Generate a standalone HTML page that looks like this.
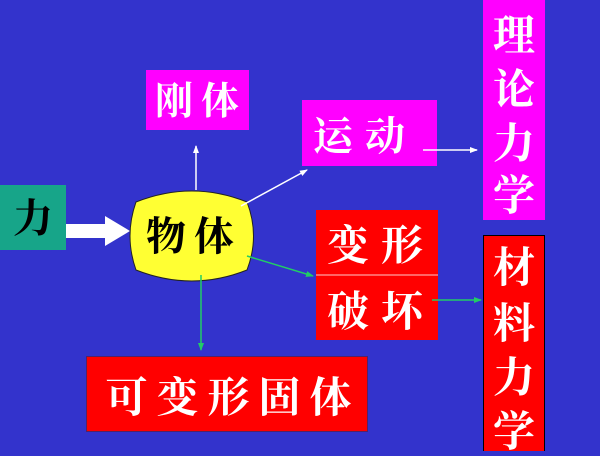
<!DOCTYPE html>
<html><head><meta charset="utf-8"><style>
html,body{margin:0;padding:0;}
body{width:600px;height:451px;background:#3333cc;overflow:hidden;}
svg text{font-family:"Liberation Serif","Noto Serif CJK SC",serif;font-weight:bold;}
</style></head><body>
<svg width="600" height="451" viewBox="0 0 600 451" xmlns="http://www.w3.org/2000/svg">
<defs>
<marker id="aw" markerWidth="8" markerHeight="6" refX="7" refY="3" orient="auto" markerUnits="userSpaceOnUse"><path d="M0,0 L8,3 L0,6 z" fill="#fff"/></marker>
<marker id="ag" markerWidth="8" markerHeight="6" refX="7" refY="3" orient="auto" markerUnits="userSpaceOnUse"><path d="M0,0 L8,3 L0,6 z" fill="#22cc66"/></marker>
</defs>
<rect width="600" height="451" fill="#3333cc"/>
<rect x="0" y="185" width="66" height="65" fill="#17a589"/>
<text x="33" y="232" font-size="40" fill="#000" text-anchor="middle">力</text>
<path d="M66,224 L105,224 L105,216 L130,231 L105,246 L105,238 L66,238 z" fill="#fff"/>
<path d="M136,202 Q192,180 247,202 Q260,236 247,270 Q192,292 136,270 Q124,236 136,202 z" fill="#ffff33" stroke="#222" stroke-width="1"/>
<text x="194" y="250" font-size="40" fill="#000" text-anchor="middle" letter-spacing="8">物体</text>
<rect x="146" y="70" width="103" height="60" fill="#ff00ff"/>
<text x="201" y="114" font-size="38" fill="#fff" text-anchor="middle" letter-spacing="8">刚体</text>
<rect x="302" y="100" width="135" height="66" fill="#ff00ff"/>
<text x="365" y="150" font-size="40" fill="#fff" text-anchor="middle" letter-spacing="12">运动</text>
<rect x="483" y="0" width="62" height="220" fill="#ff00ff"/>
<text x="514" y="50" font-size="42" fill="#fff" text-anchor="middle">理</text>
<text x="514" y="104" font-size="42" fill="#fff" text-anchor="middle">论</text>
<text x="514" y="158" font-size="42" fill="#fff" text-anchor="middle">力</text>
<text x="514" y="210" font-size="42" fill="#fff" text-anchor="middle">学</text>
<rect x="316" y="210" width="122" height="130" fill="#ff0000"/>
<line x1="316" y1="275" x2="438" y2="275" stroke="#ffcccc" stroke-width="1"/>
<text x="381" y="260" font-size="42" fill="#fff" text-anchor="middle" letter-spacing="12">变形</text>
<text x="381" y="326" font-size="42" fill="#fff" text-anchor="middle" letter-spacing="12">破坏</text>
<rect x="483.5" y="235.5" width="61" height="216" fill="#ff0000" stroke="#000" stroke-width="1"/>
<text x="514" y="282" font-size="42" fill="#fff" text-anchor="middle">材</text>
<text x="514" y="338" font-size="42" fill="#fff" text-anchor="middle">料</text>
<text x="514" y="392" font-size="42" fill="#fff" text-anchor="middle">力</text>
<text x="514" y="446" font-size="42" fill="#fff" text-anchor="middle">学</text>
<rect x="86.5" y="356.5" width="281" height="75" fill="#ff0000" stroke="#552266" stroke-width="1"/>
<text x="233" y="412" font-size="42" fill="#fff" text-anchor="middle" letter-spacing="9">可变形固体</text>
<line x1="196" y1="190" x2="196" y2="146" stroke="#fff" stroke-width="1.5" marker-end="url(#aw)"/>
<line x1="241" y1="206" x2="307" y2="170" stroke="#fff" stroke-width="1.5" marker-end="url(#aw)"/>
<line x1="423" y1="150" x2="477" y2="150" stroke="#fff" stroke-width="1.5" marker-end="url(#aw)"/>
<line x1="247" y1="256" x2="313" y2="276" stroke="#22cc66" stroke-width="1.5" marker-end="url(#ag)"/>
<line x1="201" y1="275" x2="201" y2="350" stroke="#22cc66" stroke-width="1.5" marker-end="url(#ag)"/>
<line x1="432" y1="300" x2="481" y2="300" stroke="#22cc66" stroke-width="1.5" marker-end="url(#ag)"/>
</svg>
</body></html>
